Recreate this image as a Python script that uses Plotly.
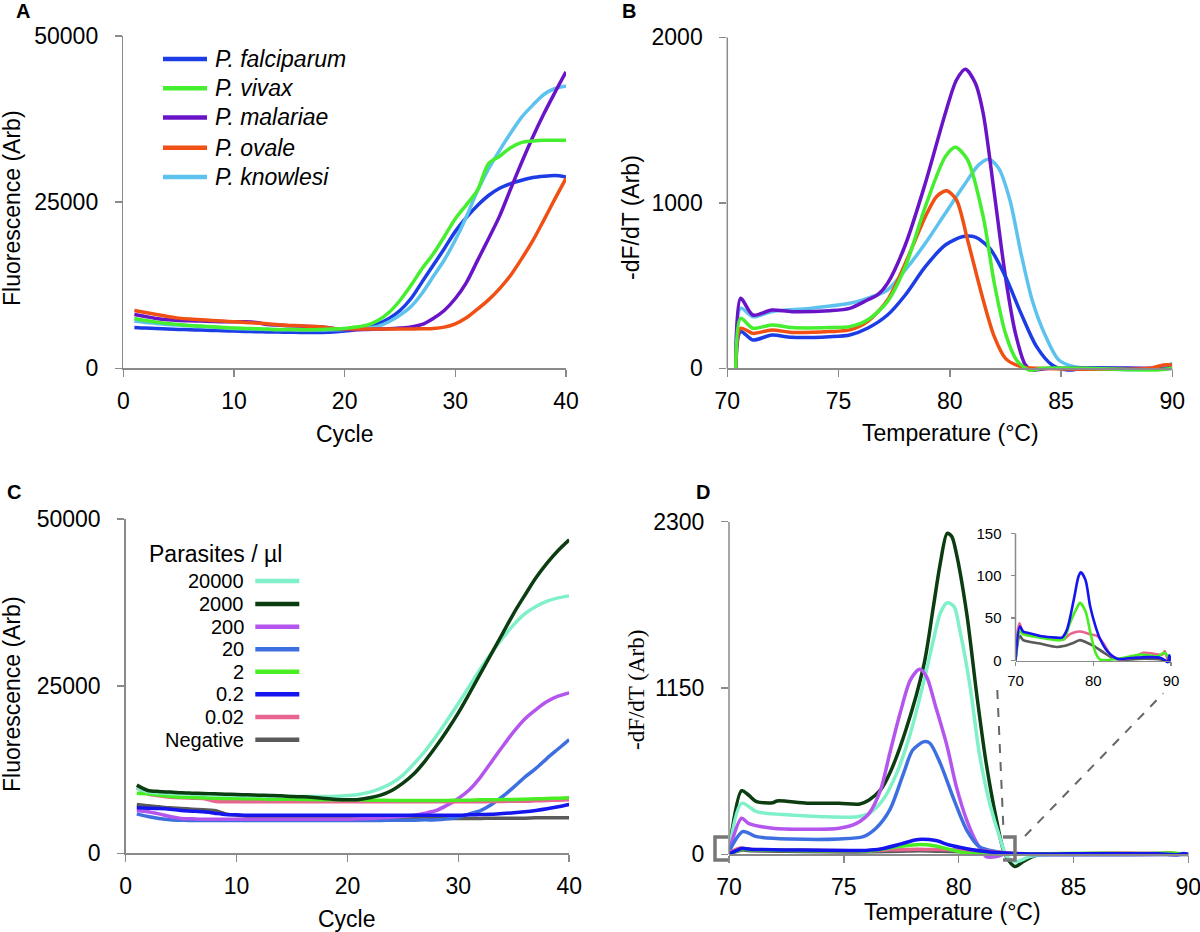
import plotly.graph_objects as go

W, H = 1200, 932
def fx(p): return p / W
def fy(p): return 1 - p / H

FONT = "Liberation Sans, Arial, sans-serif"
AXC = "#8a8a8a"

# ---------------- Panel A : amplification, species ----------------
cycles = list(range(1, 41))
a_names = ["P. falciparum", "P. vivax", "P. malariae", "P. ovale", "P. knowlesi"]
a_colors = ["#1c3ce6", "#46ee30", "#6a14c8", "#f05014", "#5ec2ee"]
falciparum = [6150, 6050, 5980, 5900, 5850, 5800, 5750, 5700, 5650, 5600,
              5550, 5500, 5480, 5450, 5420, 5400, 5380, 5380, 5450, 5600,
              5850, 6200, 6700, 7500, 8700, 10500, 13000, 15500, 18000, 20600,
              22700, 24500, 26000, 27100, 27800, 28300, 28700, 28900, 29000, 28800]
vivax = [7500, 7200, 6950, 6750, 6600, 6450, 6350, 6250, 6150, 6050,
         6000, 5950, 5900, 5850, 5850, 5800, 5800, 5850, 5900, 6000,
         6200, 6500, 7200, 8400, 10200, 12500, 15000, 17200, 19800, 22500,
         24600, 26800, 30800, 31900, 33200, 34000, 34200, 34300, 34300, 34300]
malariae = [8100, 7800, 7500, 7300, 7200, 7150, 7100, 7050, 7000, 7000,
            7000, 6900, 6600, 6500, 6400, 6350, 6300, 6200, 6000, 5800,
            5800, 5850, 5900, 5950, 6050, 6200, 6600, 7500, 8700, 10500,
            12900, 16200, 19500, 22900, 27000, 31000, 34800, 38300, 41500, 44600]
ovale = [8700, 8400, 8100, 7800, 7550, 7400, 7300, 7200, 7100, 7000,
         6900, 6800, 6700, 6550, 6450, 6400, 6300, 6200, 6000, 5950,
         5900, 5900, 5900, 5900, 5900, 5900, 5950, 6000, 6200, 6700,
         7600, 8900, 10300, 12000, 14000, 16500, 19200, 22300, 25500, 28600]
knowlesi = [7100, 6900, 6750, 6600, 6500, 6400, 6300, 6200, 6100, 6000,
            5950, 5900, 5850, 5800, 5800, 5750, 5750, 5750, 5800, 5850,
            5950, 6050, 6300, 7000, 8000, 9300, 11300, 13800, 16300, 19300,
            22800, 26700, 30000, 32800, 35400, 37800, 39600, 41200, 42100, 42500]
a_series = [falciparum, vivax, malariae, ovale, knowlesi]

# ---------------- Panel B : melt curves, species ----------------
b_falc_T = [70.38, 70.6, 71.15, 72.0, 72.9, 74.6, 75.5, 76.3, 77.2, 78.0, 78.9, 79.8, 80.6, 81.15, 81.8, 82.5, 83.2, 83.9, 84.6, 85.3, 86, 88, 89.5, 90]
b_falc_V = [0, 222, 171, 201, 187, 191, 201, 242, 322, 443, 614, 745, 796, 792, 725, 554, 332, 131, 20, -10, 0, 0, -5, 0]
b_viv_T = [70.38, 70.6, 71.15, 72.0, 72.9, 74.6, 75.5, 76.3, 77.2, 78.0, 78.9, 79.8, 80.25, 80.8, 81.5, 82.0, 82.5, 83.0, 83.55, 84.2, 86, 89.3, 90]
b_viv_V = [0, 302, 242, 262, 246, 246, 252, 292, 403, 614, 977, 1279, 1335, 1259, 916, 514, 211, 50, -10, 0, 0, -10, 0]
b_mal_T = [70.38, 70.6, 71.15, 72.0, 72.9, 74.6, 75.5, 76.3, 76.75, 77.2, 78.0, 78.9, 79.8, 80.3, 80.7, 81.15, 81.5, 82.0, 82.5, 82.95, 83.4, 83.7, 84.5, 90]
b_mal_V = [0, 423, 322, 352, 342, 348, 362, 413, 443, 513, 745, 1118, 1541, 1742, 1807, 1722, 1541, 1057, 554, 211, 20, -10, 0, 0]
b_ova_T = [70.38, 70.6, 71.15, 72.0, 72.9, 74.6, 75.5, 76.3, 77.2, 78.0, 78.9, 79.4, 79.85, 80.3, 80.8, 81.5, 82.0, 82.5, 83.2, 84, 89, 89.6, 90]
b_ova_V = [0, 242, 211, 232, 217, 222, 232, 282, 413, 634, 916, 1037, 1073, 1017, 775, 413, 191, 60, 10, 0, 0, 20, 20]
b_kno_T = [70.38, 70.6, 71.15, 72.0, 73.7, 75.5, 76.3, 77.2, 78.0, 78.9, 79.8, 80.6, 81.3, 81.75, 82.2, 82.7, 83.2, 83.7, 84.25, 84.9, 85.6, 89.5, 90]
b_kno_V = [0, 363, 312, 342, 362, 393, 423, 473, 594, 755, 937, 1098, 1229, 1263, 1208, 1017, 695, 413, 211, 50, 10, 0, 30]

# ---------------- Panel C : amplification, dilution ----------------
c_labels = ["20000", "2000", "200", "20", "2", "0.2", "0.02", "Negative"]
c_colors = ["#80f0c8", "#0b3d10", "#b455ee", "#3d6fe0", "#48ee22", "#1515ee", "#e8658f", "#5a5a5a"]
c20000 = [9700, 9200, 9050, 8950, 8900, 8850, 8800, 8750, 8700, 8650,
          8600, 8600, 8550, 8550, 8500, 8500, 8500, 8500, 8550, 8650,
          8800, 9150, 9700, 10500, 11700, 13400, 15300, 17500, 19900, 22400,
          25000, 27600, 30000, 32200, 34200, 35800, 36900, 37700, 38200, 38500]
c2000 = [10200, 9400, 9250, 9150, 9050, 9000, 8950, 8900, 8850, 8800,
         8750, 8700, 8650, 8600, 8500, 8450, 8350, 8200, 8050, 8000,
         8050, 8300, 8700, 9400, 10500, 11900, 13800, 16000, 18400, 21000,
         23900, 26900, 29900, 32900, 35900, 38600, 41200, 43400, 45300, 46900]
c200 = [6400, 6200, 5900, 5500, 5200, 5150, 5100, 5100, 5100, 5100,
        5100, 5100, 5100, 5100, 5100, 5100, 5100, 5100, 5100, 5100,
        5150, 5200, 5300, 5400, 5550, 5700, 6000, 6400, 7200, 8200,
        9500, 11400, 13700, 16000, 18200, 20100, 21500, 22700, 23500, 24000]
c20 = [5900, 5500, 5200, 5000, 4950, 4900, 4900, 4900, 4900, 4900,
       4900, 4900, 4900, 4900, 4900, 4900, 4900, 4900, 4900, 4900,
       4900, 4900, 4900, 4950, 4950, 4950, 5000, 5000, 5150, 5400,
       5900, 6400, 7300, 8500, 9900, 11400, 12700, 14200, 15600, 17000]
c2 = [9000, 8900, 8700, 8500, 8400, 8350, 8300, 8250, 8200, 8200,
      8150, 8150, 8100, 8100, 8100, 8050, 8050, 8000, 8000, 8000,
      8000, 7950, 7950, 7900, 7900, 7900, 7900, 7900, 7900, 7950,
      7950, 8000, 8000, 8050, 8050, 8100, 8150, 8200, 8250, 8300]
c02 = [6800, 6750, 6700, 6600, 6400, 6300, 6200, 6000, 5800, 5750,
       5700, 5700, 5700, 5700, 5700, 5700, 5700, 5700, 5700, 5700,
       5700, 5700, 5700, 5700, 5700, 5700, 5700, 5700, 5700, 5700,
       5750, 5800, 5850, 5950, 6050, 6200, 6400, 6650, 6950, 7300]
c002 = [9800, 8900, 8600, 8400, 8300, 8250, 8200, 7800, 7700, 7700,
        7700, 7700, 7700, 7700, 7700, 7700, 7700, 7700, 7700, 7700,
        7700, 7700, 7700, 7700, 7700, 7700, 7700, 7700, 7700, 7700,
        7700, 7700, 7750, 7750, 7800, 7800, 7850, 7900, 7950, 8000]
cneg = [7300, 7100, 6950, 6800, 6700, 6600, 6500, 6400, 5900, 5700,
        5500, 5400, 5350, 5300, 5250, 5250, 5200, 5200, 5200, 5200,
        5200, 5200, 5200, 5200, 5200, 5200, 5200, 5200, 5200, 5200,
        5200, 5200, 5250, 5250, 5250, 5250, 5300, 5300, 5300, 5300]
c_series = [c20000, c2000, c200, c20, c2, c02, c002, cneg]

# ---------------- Panel D : melt curves, dilution ----------------
d2000_T = [70.0, 70.55, 70.85, 71.2, 71.9, 72.1, 73.4, 74.8, 75.7, 76.1, 76.6, 77.0, 77.7, 78.5, 78.9, 79.2, 79.5, 79.7, 79.9, 80.35, 80.8, 81.2, 81.65, 82.0, 82.45, 82.8, 83.4, 85, 90]
d2000_V = [18, 440, 410, 364, 357, 369, 353, 353, 348, 376, 445, 560, 860, 1321, 1713, 2012, 2220, 2197, 2081, 1667, 1090, 629, 237, 7, -85, -51, -5, 0, 0]
d20000_T = [70.0, 70.55, 71.2, 72.65, 74.1, 75.6, 76.1, 76.7, 77.3, 77.9, 78.5, 78.9, 79.2, 79.5, 79.8, 80.05, 80.5, 80.9, 81.35, 81.8, 82.1, 82.5, 83.1, 84, 90]
d20000_V = [18, 353, 295, 272, 260, 260, 283, 376, 560, 837, 1206, 1482, 1667, 1740, 1713, 1551, 1159, 698, 353, 111, -16, -51, -16, 0, 0]
d200_T = [70.0, 70.55, 70.85, 71.9, 73.4, 74.8, 75.55, 76.1, 76.6, 77.0, 77.45, 77.9, 78.3, 78.6, 79.0, 79.5, 79.9, 80.35, 80.8, 81.2, 81.65, 82.1, 83, 90]
d200_V = [18, 249, 214, 180, 173, 180, 214, 283, 445, 698, 975, 1206, 1279, 1229, 1021, 745, 468, 237, 76, -16, -16, 7, 0, 0]
d20_T = [70.0, 70.6, 71.2, 72.65, 74.8, 75.85, 76.4, 77.0, 77.6, 78.0, 78.5, 78.75, 79.2, 79.8, 80.35, 80.9, 81.65, 83, 90]
d20_V = [18, 157, 122, 106, 106, 122, 180, 307, 560, 721, 779, 768, 629, 376, 168, 53, 18, 0, 0]
d02_T = [70.0, 70.56, 71.0, 71.4, 73.15, 75.3, 75.96, 76.6, 77.5, 78.1, 78.4, 79.0, 79.6, 80.3, 80.9, 81.8, 83.1, 84.8, 87.0, 88.7, 89.57, 89.8, 90]
d02_V = [0, 40, 34, 33, 29, 27, 27, 36, 72, 99, 104, 95, 64, 40, 25, 11, 2, 3, 4, 3, -2, 6, -2]
d2_T = [70.0, 70.56, 71.0, 73.15, 75.3, 76.2, 77.0, 77.9, 78.3, 79.0, 79.6, 80.3, 80.9, 83.1, 86.1, 88.3, 89.1, 90]
d2_V = [0, 34, 31, 27, 24, 25, 44, 62, 68, 58, 34, 9, 1, 2, 7, 5, 9, 1]
d002_T = [70.0, 70.5, 71.0, 73.15, 75.3, 76.2, 77.0, 77.9, 78.55, 79.6, 80.5, 81.4, 82.2, 83.1, 84.8, 86.5, 87.8, 88.9, 89.2, 89.6, 90]
d002_V = [11, 44, 33, 29, 25, 25, 31, 34, 34, 31, 29, 19, 7, 2, 3, 9, 8, 7, 11, 1, 2]
dneg_T = [70.0, 70.56, 71.0, 73.15, 75.3, 76.2, 77.5, 78.3, 79.2, 80.1, 81.4, 82.7, 84.0, 86.6, 88.8, 90]
dneg_V = [0, 29, 24, 20, 16, 17, 21, 24, 21, 17, 9, 2, 1, 2, 1, -2]

a_ticks_x = [0, 10, 20, 30, 40]
a_ticks_y = [0, 25000, 50000]
b_ticks_x = [70, 75, 80, 85, 90]
b_ticks_y = [0, 1000, 2000]
d_ticks_y = [0, 1150, 2300]
in_ticks_x = [70, 80, 90]
in_ticks_y = [0, 50, 100, 150]

fig = go.Figure()

def add(x, y, color, xa, ya, width=3.5, smooth=0.8):
    fig.add_trace(go.Scatter(x=x, y=y, mode="lines",
                             line=dict(color=color, width=width, shape="spline", smoothing=smooth),
                             xaxis=xa, yaxis=ya, showlegend=False, hoverinfo="skip"))

# A
for i in [0, 4, 2, 3, 1]:
    add(cycles, a_series[i], a_colors[i], "x", "y")
# B
add(b_kno_T, b_kno_V, a_colors[4], "x2", "y2")
add(b_mal_T, b_mal_V, a_colors[2], "x2", "y2")
add(b_falc_T, b_falc_V, a_colors[0], "x2", "y2")
add(b_ova_T, b_ova_V, a_colors[3], "x2", "y2")
add(b_viv_T, b_viv_V, a_colors[1], "x2", "y2")
# C
for i in [7, 3, 2, 5, 6, 4, 0, 1]:
    add(cycles, c_series[i], c_colors[i], "x3", "y3")
# D main
d_main = [(d2000_T, d2000_V, 1), (d20000_T, d20000_V, 0), (d200_T, d200_V, 2), (d20_T, d20_V, 3),
          (dneg_T, dneg_V, 7), (d002_T, d002_V, 6), (d2_T, d2_V, 4), (d02_T, d02_V, 5)]
for t, v, ci in d_main:
    add(t, v, c_colors[ci], "x4", "y4")
# inset
for t, v, ci in [(dneg_T, dneg_V, 7), (d002_T, d002_V, 6), (d2_T, d2_V, 4), (d02_T, d02_V, 5)]:
    add(t, v, c_colors[ci], "x5", "y5", width=2.6)

def xax(dom, rng, tv, anchor, position=None, fs=23, ticklen=7, standoff=5):
    d = dict(domain=dom, range=rng, tickvals=tv, showline=True, linecolor=AXC, linewidth=1.5,
             ticks="outside", ticklen=ticklen, tickwidth=1.5, tickcolor=AXC, automargin=False,
             tickfont=dict(family=FONT, size=fs, color="black"), showgrid=False, zeroline=False,
             ticklabelstandoff=standoff, ticklabeloverflow="allow", fixedrange=True)
    if position is None:
        d["anchor"] = anchor
    else:
        d["anchor"] = "free"
        d["position"] = position
    return d

def yax(dom, rng, tv, anchor, showline=True, fs=23, ticklen=7, standoff=12):
    return dict(domain=dom, range=rng, tickvals=tv, showline=showline, linecolor=AXC, linewidth=1.5,
                ticks="outside", ticklen=ticklen, tickwidth=1.5, tickcolor=AXC, tickformat="d",
                automargin=False, ticklabeloverflow="allow",
                tickfont=dict(family=FONT, size=fs, color="black"), showgrid=False, zeroline=False,
                ticklabelstandoff=standoff, anchor=anchor, fixedrange=True)

# pixel geometry
A_x0, A_x1, A_top, A_zero = 123.3, 566.0, 36.0, 368.3
B_x0, B_x1, B_top, B_zero = 727.3, 1172.3, 37.3, 368.3
C_x0, C_x1, C_top, C_zero = 125.7, 569.2, 519.0, 853.3
D_x0, D_x1, D_top, D_zero = 729.0, 1188.3, 521.7, 854.3
I_x0, I_x1, I_top, I_zero = 1015.5, 1171.0, 533.3, 660.5

B_pad, D_pad, I_pad = 10, 18, 4
B_min = -B_pad * 2000 / (B_zero - B_top)
D_min = -D_pad * 2300 / (D_zero - D_top)
I_min = -I_pad * 150 / (I_zero - I_top)

fig.update_layout(
    template="none",
    width=W, height=H, margin=dict(l=0, r=0, t=0, b=0, pad=0, autoexpand=False),
    paper_bgcolor="white", plot_bgcolor="rgba(0,0,0,0)", showlegend=False,
    xaxis=xax([fx(A_x0), fx(A_x1)], [0, 40], a_ticks_x, "y"),
    yaxis=yax([fy(A_zero), fy(A_top)], [0, 50000], a_ticks_y, "x"),
    xaxis2=xax([fx(B_x0), fx(B_x1)], [70, 90], b_ticks_x, None, position=fy(B_zero)),
    yaxis2=yax([fy(B_zero + B_pad), fy(B_top)], [B_min, 2000], b_ticks_y, "x2", showline=False),
    xaxis3=xax([fx(C_x0), fx(C_x1)], [0, 40], a_ticks_x, "y3"),
    yaxis3=yax([fy(C_zero), fy(C_top)], [0, 50000], a_ticks_y, "x3"),
    xaxis4=xax([fx(D_x0), fx(D_x1)], [70, 90], b_ticks_x, None, position=fy(D_zero)),
    yaxis4=yax([fy(D_zero + D_pad), fy(D_top)], [D_min, 2300], d_ticks_y, "x4", showline=False),
    xaxis5=xax([fx(I_x0), fx(I_x1)], [70, 90], in_ticks_x, None, position=fy(I_zero), fs=15, ticklen=4, standoff=2),
    yaxis5=yax([fy(I_zero + I_pad), fy(I_top)], [I_min, 150], in_ticks_y, "x5", showline=False, fs=15, ticklen=4, standoff=6),
)

shapes = []
# y-axis lines for panels whose x-axis floats at zero
for xr, yr, top in [("x2 domain", "y2", 2000), ("x4 domain", "y4", 2300), ("x5 domain", "y5", 150)]:
    shapes.append(dict(type="line", xref=xr, yref=yr, x0=0, x1=0, y0=0, y1=top,
                       line=dict(color=AXC, width=1.5)))
# zoom brackets
BRC = "#777777"
shapes.append(dict(type="path", xref="paper", yref="paper",
                   path=f"M{fx(728)},{fy(837)} L{fx(715)},{fy(837)} L{fx(715)},{fy(860)} L{fx(728)},{fy(860)}",
                   line=dict(color=BRC, width=3.5)))
shapes.append(dict(type="path", xref="paper", yref="paper",
                   path=f"M{fx(1003)},{fy(837)} L{fx(1015)},{fy(837)} L{fx(1015)},{fy(860)} L{fx(1003)},{fy(860)}",
                   line=dict(color=BRC, width=3.5)))
# dashed connectors
shapes.append(dict(type="line", xref="paper", yref="paper", x0=fx(997.3), y0=fy(690), x1=fx(1003.3), y1=fy(826),
                   line=dict(color="#666666", width=2, dash="dash")))
shapes.append(dict(type="line", xref="paper", yref="paper", x0=fx(1025), y0=fy(836), x1=fx(1163.3), y1=fy(693.3),
                   line=dict(color="#666666", width=2, dash="dash")))

annotations = []
def txt(x, y, s, size=23, xanchor="center", yanchor="middle", angle=0, family=FONT, color="black"):
    annotations.append(dict(x=fx(x), y=fy(y), xref="paper", yref="paper", text=s, showarrow=False,
                            xanchor=xanchor, yanchor=yanchor, textangle=angle,
                            font=dict(family=family, size=size, color=color)))

# Panel A legend
a_leg_y = [59, 88.3, 117.5, 147.7, 177]
for i, yy in enumerate(a_leg_y):
    shapes.append(dict(type="line", xref="paper", yref="paper", x0=fx(163), x1=fx(207), y0=fy(yy), y1=fy(yy),
                       line=dict(color=a_colors[i], width=4.5)))
    txt(213, yy, f"<i>{a_names[i]}</i>", size=23, xanchor="left")

# Panel C legend
txt(147, 554, "Parasites / µl", size=23, xanchor="left")
c_leg_y = [581, 604, 626.7, 649.3, 671.7, 694.3, 717, 739.7]
for i, yy in enumerate(c_leg_y):
    shapes.append(dict(type="line", xref="paper", yref="paper", x0=fx(255.3), x1=fx(299.3), y0=fy(yy), y1=fy(yy),
                       line=dict(color=c_colors[i], width=4.5)))
    txt(246, yy, c_labels[i], size=20, xanchor="right")

# panel letters
for s, x, y in [("A", 23, 11), ("B", 629, 11), ("C", 14, 492), ("D", 703, 492)]:
    txt(x, y, f"<b>{s}</b>", size=20)

# axis titles
txt(12, 208, "Fluorescence (Arb)", angle=-90)
txt(345, 434, "Cycle")
txt(631, 218, "-dF/dT (Arb)", angle=-90)
txt(950, 433, "Temperature (°C)")
txt(12, 694, "Fluorescence (Arb)", angle=-90)
txt(347, 919, "Cycle")
txt(636, 690, "-dF/dT (Arb)", angle=-90, family="Liberation Serif, Times New Roman, serif")
txt(952, 912, "Temperature (°C)")

fig.update_layout(shapes=shapes, annotations=annotations)
fig.write_html("out.html", config={"displayModeBar": False, "staticPlot": True},
               post_script="document.body.style.margin='0px';document.body.style.overflow='hidden';")
